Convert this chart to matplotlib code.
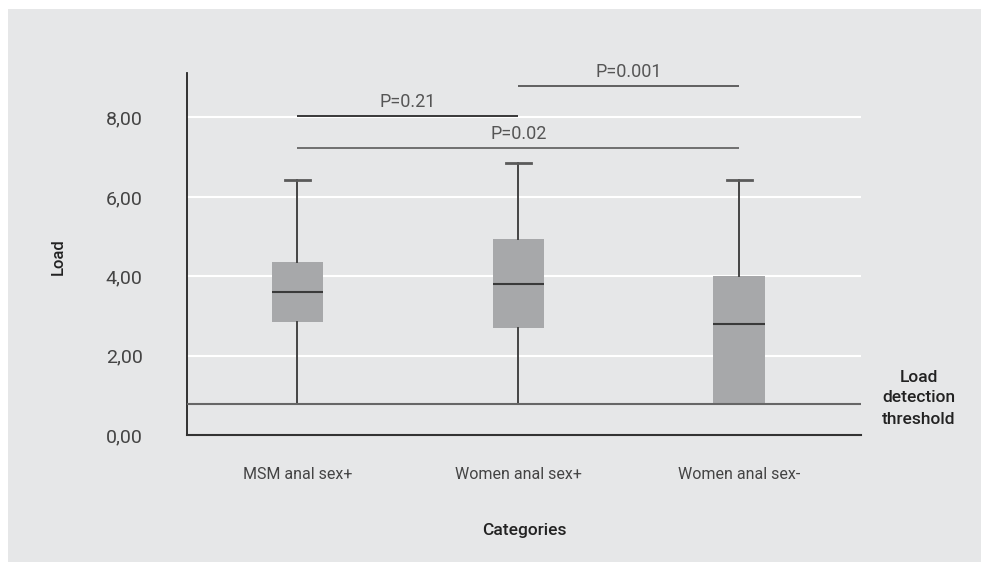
import numpy as np
import matplotlib.pyplot as plt
from matplotlib.patches import Rectangle

plt.rcParams['font.family'] = ['Roboto', 'DejaVu Sans']

# data
categories = ['MSM anal sex+', 'Women anal sex+', 'Women anal sex-']
whisker_low = [0.79, 0.79, 0.79]
q1 = [2.84, 2.71, 0.79]
median = [3.61, 3.80, 2.80]
q3 = [4.35, 4.94, 4.00]
whisker_high = [6.42, 6.86, 6.42]
threshold = 0.79

# significance brackets: (from, to, height, label)
bracket_from = [0, 1, 0]
bracket_to = [1, 2, 2]
bracket_y = [8.03, 8.80, 7.24]
bracket_labels = ['P=0.21', 'P=0.001', 'P=0.02']
bracket_colors = ['#2a2a2a', '#555555', '#666666']

yticks = [0, 2, 4, 6, 8]

fig = plt.figure(figsize=(9.81, 5.62), dpi=100)
fig.patch.set_facecolor('white')
# grey panel behind everything
fig.patches.append(Rectangle((8 / 981, 0), 1, 1 - 9 / 562, transform=fig.transFigure,
                             facecolor='#e6e7e8', edgecolor='none', zorder=-10))

ax = fig.add_axes([187 / 981, 1 - 435.3 / 562, (861 - 187) / 981, (435.3 - 73.3) / 562])
ax.set_facecolor('none')

stats = []
for i in range(len(categories)):
    stats.append({'whislo': whisker_low[i], 'q1': q1[i], 'med': median[i],
                  'q3': q3[i], 'whishi': whisker_high[i], 'fliers': []})

parts = ax.bxp(stats, positions=range(len(categories)), widths=0.235, capwidths=0.11,
               patch_artist=True, showfliers=False,
               boxprops=dict(facecolor='#a7a8aa', edgecolor='none'),
               medianprops=dict(color='#3a3a3a', linewidth=1.5),
               whiskerprops=dict(color='#444444', linewidth=1.4),
               capprops=dict(color='#5a5a5a', linewidth=2))
# lower caps sit on the threshold line, so hide them
for cap in parts['caps'][0::2]:
    cap.set_visible(False)

# detection threshold line
ax.axhline(threshold, color='#666666', linewidth=1.5, zorder=3)

# p-value brackets
for a, b, y, lab, c in zip(bracket_from, bracket_to, bracket_y, bracket_labels, bracket_colors):
    ax.plot([a, b], [y, y], color=c, linewidth=1.3, solid_capstyle='butt', clip_on=False)
    ax.text((a + b) / 2, y + 0.12, lab, ha='center', va='bottom', fontsize=13, color='#555555')

ax.set_xlim(-0.5, 2.55)
ax.set_ylim(0, 9.11)
ax.set_yticks(yticks)
ax.set_yticklabels([f'{v:.2f}'.replace('.', ',') for v in yticks])
ax.set_xticks(range(len(categories)))
ax.set_xticklabels(categories)
ax.tick_params(axis='y', length=0, pad=32, labelsize=14, labelcolor='#444444')
ax.tick_params(axis='x', length=0, pad=23, labelsize=11.5, labelcolor='#444444')

for g in [2, 4, 6, 8]:
    ax.axhline(g, color='white', linewidth=1.5, zorder=0)

ax.spines['top'].set_visible(False)
ax.spines['right'].set_visible(False)
ax.spines['left'].set_color('#222222')
ax.spines['bottom'].set_color('#333333')
ax.spines['left'].set_linewidth(1.3)
ax.spines['bottom'].set_linewidth(1.5)

fig.text(58 / 981, 1 - 257 / 562, 'Load', rotation=90, ha='center', va='center',
         fontsize=12, fontweight='medium', color='#222222')
fig.text(524 / 981, 1 - 530 / 562, 'Categories', ha='center', va='center',
         fontsize=12.5, fontweight='medium', color='#222222')
fig.text(919 / 981, 1 - 398 / 562, 'Load\ndetection\nthreshold', ha='center', va='center',
         fontsize=12.5, fontweight='medium', color='#222222', linespacing=1.5)

fig.savefig('out.png', dpi=100)
